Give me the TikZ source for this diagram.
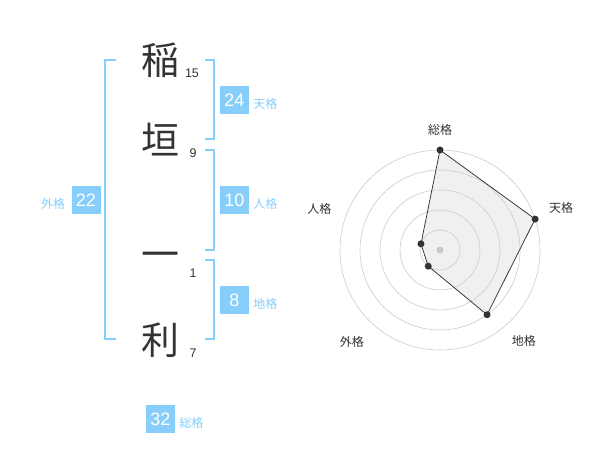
\documentclass[tikz,border=0pt]{standalone}
\usepackage{fontspec}
\setmainfont{Liberation Sans}
\newfontfamily\jpfont{Noto Sans CJK JP}
\usetikzlibrary{positioning}

\definecolor{kakublue}{HTML}{87CEFA}
\definecolor{inkgray}{HTML}{333333}

\tikzstyle{kanji} = [inner sep=0pt, text=inkgray, font=\jpfont\fontsize{38}{38}\selectfont]
\tikzstyle{strokes} = [inner sep=0pt, text=inkgray, font=\fontsize{12.5}{12.5}\selectfont]
\tikzstyle{kakubox} = [rectangle, minimum width=29pt, minimum height=28pt, inner sep=0pt, fill=kakublue, text=white, font=\fontsize{18}{18}\selectfont]
\tikzstyle{kakuname} = [inner sep=0pt, text=kakublue, font=\jpfont\fontsize{12}{12}\selectfont]
\tikzstyle{bracket} = [draw=kakublue, line width=2pt]
\tikzstyle{ring} = [draw=black!20, line width=0.6pt]
\tikzstyle{axisname} = [inner sep=0pt, text=inkgray, font=\jpfont\fontsize{12}{12}\selectfont]
\tikzstyle{valdot} = [circle, fill=inkgray, inner sep=0pt, minimum size=7pt]

\begin{document}
\begin{tikzpicture}[x=1pt, y=-1pt]
      \useasboundingbox (0,0) rectangle (600,470);
      \fill[white] (0,0) rectangle (600,470);

      % name and stroke counts
      \node (ine) [kanji] at (160,60) {稲};
      \node (kaki) [kanji] at (160,140) {垣};
      \node (ichi) [kanji] at (160,260) {一};
      \node (toshi) [kanji] at (160,340) {利};
      \node (ine-n) [strokes] at (192,73) {15};
      \node (kaki-n) [strokes] at (193,153) {9};
      \node (ichi-n) [strokes] at (193,273) {1};
      \node (toshi-n) [strokes] at (193,353) {7};

      % brackets
      \draw [bracket] (116,60) -- (105,60) -- (105,339) -- (116,339);
      \draw [bracket] (205,60) -- (214,60) -- (214,139) -- (205,139);
      \draw [bracket] (205,150) -- (214,150) -- (214,250) -- (205,250);
      \draw [bracket] (205,260) -- (214,260) -- (214,339) -- (205,339);

      % scores
      \node (tenbox) [kakubox] at (234.5,100) {24};
      \node (jinbox) [kakubox] at (234.5,200) {10};
      \node (chibox) [kakubox] at (234.5,300) {8};
      \node (gaibox) [kakubox] at (86,200) {22};
      \node (soubox) [kakubox] at (160.5,419) {32};
      \node (ten) [kakuname, right=4pt of tenbox, yshift=-4pt] {天格};
      \node (jin) [kakuname, right=4pt of jinbox, yshift=-4pt] {人格};
      \node (chi) [kakuname, right=4pt of chibox, yshift=-4pt] {地格};
      \node (gai) [kakuname, left=6pt of gaibox, yshift=-4pt] {外格};
      \node (sou) [kakuname, right=4pt of soubox, yshift=-4pt] {総格};

      % radar chart
      \coordinate (c) at (440,250);
      \coordinate (sou-v) at ([shift={(90:100pt)}]c);
      \coordinate (ten-v) at ([shift={(18:100pt)}]c);
      \coordinate (chi-v) at ([shift={(-54:80pt)}]c);
      \coordinate (gai-v) at ([shift={(-126:20pt)}]c);
      \coordinate (jin-v) at ([shift={(162:20pt)}]c);
      \fill [black!6] (sou-v) -- (ten-v) -- (chi-v) -- (gai-v) -- (jin-v) -- cycle;
      \foreach \r in {20,40,60,80,100}
        \draw [ring] (c) circle (\r pt);
      \draw [black!85, line width=0.7pt]
        (sou-v) -- (ten-v) -- (chi-v) -- (gai-v) -- (jin-v) -- cycle;
      \fill [black!22] (c) circle (3.5pt);
      \foreach \v in {sou-v,ten-v,chi-v,gai-v,jin-v}
        \node [valdot] at (\v) {};

      \node (sou-a) [axisname] at ([shift={(90:120pt)}]c) {総格};
      \node (ten-a) [axisname] at ([shift={(19:128pt)}]c) {天格};
      \node (chi-a) [axisname] at ([shift={(-47.5:124pt)}]c) {地格};
      \node (gai-a) [axisname] at ([shift={(-133.9:127pt)}]c) {外格};
      \node (jin-a) [axisname] at ([shift={(161:127.5pt)}]c) {人格};
    \end{tikzpicture}
\end{document}
